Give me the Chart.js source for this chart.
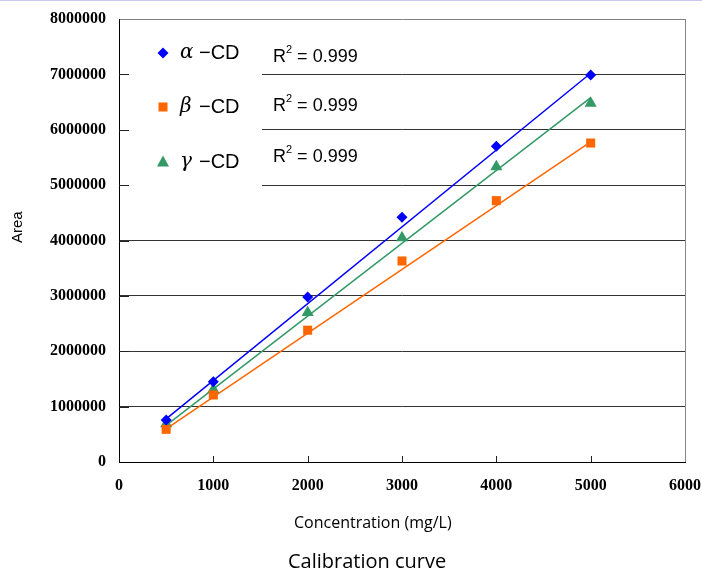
<!DOCTYPE html>
<html lang="en">
<head>
    <meta charset="UTF-8">
    <title>Calibration curve</title>
    <style>
        body { margin: 0; background: #fff; }
        #wrap { position: relative; width: 702px; height: 571px; }
        #topline { position: absolute; left: 0; top: 0; width: 702px; height: 1px; background: #c8c8f0; }
        .label { position: absolute; font-family: "Open Sans", sans-serif; color: #000; white-space: nowrap; }
        #yTitle {
            left: 9px; top: 243px; font-family: "Liberation Sans", sans-serif; font-size: 15px; line-height: 16px;
            font-weight: normal; transform-origin: 0 0; transform: rotate(-90deg);
        }
        #xTitle { left: 294px; top: 511px; font-size: 16px; }
        #caption { left: 288px; top: 547px; font-size: 20px; }
    </style>
</head>
<body>
<div id="wrap">
    <canvas id="canvas" width="702" height="571"></canvas>
    <div id="topline"></div>
    <div class="label" id="yTitle">Area</div>
    <div class="label" id="xTitle">Concentration (mg/L)</div>
    <div class="label" id="caption">Calibration curve</div>
</div>

<script src="https://cdn.jsdelivr.net/npm/chart.js@4/dist/chart.umd.min.js"></script>
<script>
    // measured points
    const concentrations = [500, 1000, 2000, 3000, 4000, 5000];
    const alphaArea = [760000, 1450000, 2980000, 4420000, 5700000, 6990000];
    const betaArea = [590000, 1210000, 2380000, 3630000, 4720000, 5760000];
    const gammaArea = [690000, 1310000, 2700000, 4050000, 5330000, 6480000];

    const trendX = [500, 5000];
    const alphaTrend = [780000, 7020000];
    const betaTrend = [600000, 5780000];
    const gammaTrend = [660000, 6580000];

    const seriesNames = ["α", "β", "γ"];
    const rSquared = ["0.999", "0.999", "0.999"];
    const xTicks = [0, 1000, 2000, 3000, 4000, 5000, 6000];
    const yTicks = [0, 1000000, 2000000, 3000000, 4000000, 5000000, 6000000, 7000000, 8000000];

    const colors = {
        alpha: "#0000FF",
        beta: "#FF6600",
        gamma: "#339966"
    };

    const toXY = function(xs, ys) {
        return xs.map(function(x, i) { return {x: x, y: ys[i]}; });
    };

    const pointSet = function(label, ys, color, style, radius) {
        return {
            label: label,
            data: toXY(concentrations, ys),
            showLine: false,
            pointStyle: style,
            pointRadius: radius,
            pointBackgroundColor: color,
            pointBorderColor: color,
            pointBorderWidth: 0
        };
    };
    const lineSet = function(label, ys, color) {
        return {
            label: label,
            data: toXY(trendX, ys),
            showLine: true,
            borderColor: color,
            borderWidth: 1.5,
            pointRadius: 0
        };
    };

    function drawMarker(ctx, style, x, y, color) {
        ctx.fillStyle = color;
        ctx.beginPath();
        if (style === "rectRot") {
            ctx.moveTo(x, y - 5.5); ctx.lineTo(x + 5.5, y); ctx.lineTo(x, y + 5.5); ctx.lineTo(x - 5.5, y);
        } else if (style === "rect") {
            ctx.rect(x - 4.5, y - 4.5, 9, 9);
        } else {
            ctx.moveTo(x, y - 6.5); ctx.lineTo(x + 6, y + 4.5); ctx.lineTo(x - 6, y + 4.5);
        }
        ctx.closePath();
        ctx.fill();
    }

    const legendBox = {
        id: "legendBox",
        beforeDatasetsDraw(chart) {
            const {ctx, chartArea, scales} = chart;
            const x = scales.x, y = scales.y;
            ctx.save();
            // white box that hides the upper gridlines
            const boxRight = x.getPixelForValue(1515);
            const boxBottom = y.getPixelForValue(5000000) + 2;
            ctx.fillStyle = "#fff";
            ctx.fillRect(chartArea.left + 1, chartArea.top + 1, boxRight - chartArea.left - 1, boxBottom - chartArea.top - 1);

            // inner tick marks
            ctx.strokeStyle = "#222";
            ctx.lineWidth = 1;
            ctx.beginPath();
            yTicks.slice(1, -1).forEach(function(v) {
                const py = Math.round(y.getPixelForValue(v)) + 0.5;
                ctx.moveTo(chartArea.left, py);
                ctx.lineTo(chartArea.left + 10, py);
            });
            xTicks.slice(1, -1).forEach(function(v) {
                const px = Math.round(x.getPixelForValue(v)) + 0.5;
                ctx.moveTo(px, chartArea.bottom);
                ctx.lineTo(px, chartArea.bottom - 6);
            });
            ctx.stroke();

            // right frame
            ctx.strokeStyle = "#888";
            ctx.beginPath();
            ctx.moveTo(Math.round(chartArea.right) + 0.5, chartArea.top);
            ctx.lineTo(Math.round(chartArea.right) + 0.5, chartArea.bottom);
            ctx.stroke();

            // legend entries
            const styles = ["rectRot", "rect", "triangle"];
            const cols = [colors.alpha, colors.beta, colors.gamma];
            const rowY = [34, 88, 143];
            const rY = [38, 87, 138];
            ctx.textBaseline = "middle";
            seriesNames.forEach(function(name, i) {
                const cy = chartArea.top + rowY[i];
                drawMarker(ctx, styles[i], chartArea.left + 44, cy, cols[i]);
                ctx.fillStyle = "#000";
                ctx.textAlign = "left";
                ctx.font = "italic 20px 'DejaVu Serif'";
                ctx.fillText(name, chartArea.left + 61, cy);
                ctx.font = "20px 'Liberation Sans'";
                ctx.fillText("−CD", chartArea.left + 80, cy);

                const ry = chartArea.top + rY[i];
                let tx = chartArea.left + 154;
                ctx.font = "18px 'Liberation Sans'";
                ctx.fillText("R", tx, ry);
                tx += ctx.measureText("R").width;
                ctx.font = "11px 'Liberation Sans'";
                ctx.fillText("2", tx, ry - 7);
                tx += ctx.measureText("2").width;
                ctx.font = "18px 'Liberation Sans'";
                ctx.fillText(" = " + rSquared[i], tx, ry);
            });
            ctx.restore();
        }
    };

    const tickFont = {family: "'Liberation Serif', serif", size: 16, weight: "bold"};

    const config = {
        type: "scatter",
        data: {
            datasets: [
                pointSet("α-CD", alphaArea, colors.alpha, "rectRot", 5.5),
                pointSet("β-CD", betaArea, colors.beta, "rect", 6.4),
                pointSet("γ-CD", gammaArea, colors.gamma, "triangle", 7),
                lineSet("α-CD fit", alphaTrend, colors.alpha),
                lineSet("β-CD fit", betaTrend, colors.beta),
                lineSet("γ-CD fit", gammaTrend, colors.gamma)
            ]
        },
        options: {
            responsive: false,
            animation: false,
            layout: {padding: {top: 19, right: 17, bottom: 69, left: 0}},
            plugins: {
                legend: {display: false},
                tooltip: {enabled: false},
                title: {display: false}
            },
            scales: {
                x: {
                    type: "linear",
                    min: 0,
                    max: 6000,
                    afterBuildTicks: function(scale) { scale.ticks = xTicks.map(function(v) { return {value: v}; }); },
                    ticks: {
                        font: tickFont,
                        color: "#000",
                        padding: 14,
                        maxRotation: 0,
                        callback: function(v) { return String(v); }
                    },
                    grid: {drawOnChartArea: false, drawTicks: false},
                    border: {color: "#000", width: 1},
                    afterFit: function(scale) {
                        scale.height = 40;
                        scale.paddingLeft = 0;
                        scale.paddingRight = 0;
                    }
                },
                y: {
                    type: "linear",
                    min: 0,
                    max: 8000000,
                    afterBuildTicks: function(scale) { scale.ticks = yTicks.map(function(v) { return {value: v}; }); },
                    ticks: {
                        font: tickFont,
                        color: "#000",
                        padding: 13,
                        callback: function(v) { return String(v); }
                    },
                    grid: {
                        color: function(c) { return c.tick && c.tick.value === 8000000 ? "#808080" : "#333"; },
                        lineWidth: 1,
                        drawTicks: false
                    },
                    border: {color: "#000", width: 1},
                    afterFit: function(scale) {
                        scale.width = 119;
                        scale.paddingTop = 0;
                        scale.paddingBottom = 0;
                    }
                }
            }
        },
        plugins: [legendBox]
    };

    const chart = new Chart(document.getElementById("canvas").getContext("2d"), config);
</script>
</body>
</html>
